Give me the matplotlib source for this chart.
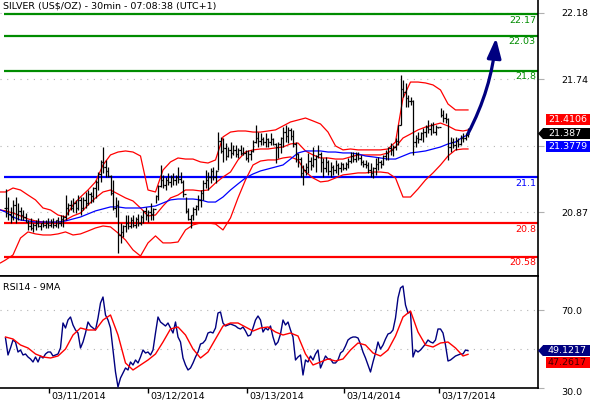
import matplotlib
matplotlib.use('Agg')
import matplotlib.pyplot as plt
from matplotlib import transforms
from matplotlib.patches import Rectangle, Polygon

plt.rcParams['font.family'] = 'DejaVu Sans'

title = 'SILVER (US$/OZ) - 30min - 07:08:38 (UTC+1)'

# 30 min bars, one per index
highs = [21.024, 20.971, 20.906, 20.952, 20.971, 20.932, 20.906, 20.886, 20.866, 20.820,
         20.834, 20.801, 20.820, 20.834, 20.801, 20.820, 20.820, 20.834, 20.827, 20.834,
         20.820, 20.840, 20.853, 20.853, 20.984, 20.932, 20.952, 20.965, 20.952, 20.984,
         20.971, 20.971, 21.004, 21.017, 21.004, 21.037, 21.083, 21.135, 21.214, 21.299,
         21.214, 21.168, 21.116, 21.083, 20.971, 20.952, 20.801, 20.788, 20.853, 20.853,
         20.840, 20.853, 20.840, 20.860, 20.853, 20.886, 20.906, 20.886, 20.932, 20.899,
         20.984, 21.050, 21.181, 21.116, 21.102, 21.129, 21.116, 21.129, 21.116, 21.168,
         21.135, 21.083, 20.971, 20.899, 20.853, 20.906, 20.919, 20.984, 21.017, 21.083,
         21.148, 21.135, 21.161, 21.168, 21.148, 21.397, 21.365, 21.358, 21.325, 21.299,
         21.332, 21.312, 21.312, 21.293, 21.312, 21.299, 21.280, 21.280, 21.280, 21.345,
         21.443, 21.397, 21.391, 21.365, 21.391, 21.358, 21.391, 21.358, 21.325, 21.332,
         21.365, 21.430, 21.443, 21.430, 21.424, 21.411, 21.332, 21.260, 21.234, 21.181,
         21.194, 21.260, 21.234, 21.299, 21.247, 21.312, 21.266, 21.227, 21.234, 21.214,
         21.201, 21.181, 21.214, 21.194, 21.201, 21.194, 21.201, 21.227, 21.266, 21.266,
         21.266, 21.266, 21.247, 21.214, 21.214, 21.201, 21.194, 21.168, 21.227, 21.234,
         21.214, 21.247, 21.280, 21.299, 21.325, 21.312, 21.358, 21.443, 21.771, 21.738,
         21.719, 21.640, 21.627, 21.607, 21.378, 21.397, 21.397, 21.424, 21.443, 21.476,
         21.456, 21.463, 21.443, 21.430, 21.555, 21.542, 21.522, 21.489, 21.365, 21.358,
         21.365, 21.358, 21.378, 21.391, 21.391, 21.424]
lows = [20.840, 20.820, 20.801, 20.820, 20.801, 20.820, 20.820, 20.820, 20.807, 20.755,
        20.755, 20.742, 20.755, 20.775, 20.755, 20.775, 20.768, 20.768, 20.775, 20.768,
        20.775, 20.768, 20.781, 20.775, 20.820, 20.853, 20.886, 20.873, 20.866, 20.886,
        20.853, 20.886, 20.899, 20.919, 20.932, 20.938, 20.965, 21.017, 21.070, 21.129,
        21.102, 21.102, 20.984, 20.886, 20.840, 20.604, 20.670, 20.709, 20.742, 20.761,
        20.768, 20.775, 20.768, 20.781, 20.788, 20.801, 20.820, 20.807, 20.820, 20.820,
        20.932, 20.952, 21.037, 21.030, 21.017, 21.050, 21.037, 21.050, 21.050, 21.063,
        21.063, 20.971, 20.866, 20.820, 20.768, 20.820, 20.853, 20.886, 20.906, 20.952,
        21.030, 21.017, 21.063, 21.083, 21.063, 21.148, 21.260, 21.201, 21.214, 21.234,
        21.227, 21.247, 21.234, 21.227, 21.247, 21.247, 21.214, 21.201, 21.214, 21.266,
        21.325, 21.299, 21.312, 21.312, 21.299, 21.299, 21.312, 21.312, 21.194, 21.227,
        21.260, 21.299, 21.332, 21.325, 21.345, 21.299, 21.201, 21.168, 21.102, 21.050,
        21.116, 21.129, 21.148, 21.168, 21.135, 21.227, 21.135, 21.102, 21.135, 21.116,
        21.102, 21.116, 21.129, 21.116, 21.135, 21.148, 21.148, 21.161, 21.194, 21.201,
        21.201, 21.214, 21.181, 21.168, 21.161, 21.129, 21.102, 21.096, 21.116, 21.148,
        21.161, 21.181, 21.214, 21.214, 21.247, 21.240, 21.280, 21.312, 21.443, 21.627,
        21.561, 21.561, 21.575, 21.247, 21.299, 21.325, 21.345, 21.332, 21.365, 21.391,
        21.378, 21.391, 21.378, 21.424, 21.496, 21.463, 21.456, 21.214, 21.266, 21.293,
        21.280, 21.299, 21.312, 21.332, 21.345, 21.365]
closes = [20.90, 20.86, 20.84, 20.92, 20.86, 20.88, 20.85, 20.84, 20.81, 20.78,
          20.77, 20.79, 20.80, 20.78, 20.80, 20.79, 20.80, 20.79, 20.81, 20.79,
          20.82, 20.80, 20.83, 20.84, 20.90, 20.92, 20.90, 20.93, 20.90, 20.95,
          20.90, 20.95, 20.93, 20.99, 20.98, 21.03, 21.07, 21.12, 21.20, 21.17,
          21.14, 21.11, 21.00, 20.90, 20.92, 20.72, 20.74, 20.78, 20.80, 20.78,
          20.82, 20.79, 20.83, 20.80, 20.84, 20.88, 20.85, 20.87, 20.86, 20.89,
          20.98, 21.04, 21.08, 21.05, 21.08, 21.07, 21.10, 21.08, 21.10, 21.09,
          21.07, 20.99, 20.88, 20.83, 20.85, 20.89, 20.91, 20.95, 21.00, 21.06,
          21.08, 21.10, 21.14, 21.10, 21.14, 21.34, 21.27, 21.29, 21.24, 21.28,
          21.26, 21.28, 21.25, 21.28, 21.26, 21.26, 21.23, 21.25, 21.27, 21.33,
          21.36, 21.34, 21.35, 21.33, 21.35, 21.33, 21.35, 21.32, 21.30, 21.32,
          21.36, 21.40, 21.37, 21.41, 21.37, 21.32, 21.25, 21.22, 21.13, 21.15,
          21.17, 21.21, 21.18, 21.22, 21.24, 21.25, 21.20, 21.16, 21.20, 21.14,
          21.17, 21.15, 21.18, 21.16, 21.19, 21.16, 21.19, 21.21, 21.24, 21.22,
          21.25, 21.23, 21.20, 21.19, 21.18, 21.15, 21.13, 21.16, 21.19, 21.20,
          21.19, 21.24, 21.26, 21.29, 21.28, 21.30, 21.34, 21.44, 21.68, 21.66,
          21.62, 21.60, 21.60, 21.33, 21.36, 21.35, 21.39, 21.40, 21.43, 21.42,
          21.44, 21.40, 21.43, 21.43, 21.51, 21.49, 21.48, 21.30, 21.33, 21.31,
          21.34, 21.32, 21.36, 21.36, 21.38, 21.387]

# bollinger bands and moving average, read every third bar
band_idx = [-2] + list(range(0, 184, 3)) + [185]
upper = [21.004, 21.004, 21.030, 21.017, 20.984, 20.952, 20.899, 20.886,
         20.853, 20.840, 20.919, 20.971, 21.017, 21.070, 21.181, 21.247,
         21.266, 21.273, 21.266, 21.240, 21.017, 21.004, 21.148, 21.201,
         21.227, 21.220, 21.220, 21.201, 21.194, 21.214, 21.365, 21.397,
         21.404, 21.404, 21.397, 21.397, 21.404, 21.411, 21.437, 21.463,
         21.476, 21.489, 21.470, 21.450, 21.397, 21.306, 21.280, 21.286,
         21.280, 21.280, 21.280, 21.280, 21.286, 21.332, 21.620, 21.725,
         21.725, 21.719, 21.706, 21.673, 21.581, 21.542, 21.542, 21.542]
middle = [20.886, 20.880, 20.866, 20.847, 20.827, 20.814, 20.807, 20.801,
          20.801, 20.820, 20.847, 20.866, 20.919, 20.965, 21.004, 21.017,
          20.991, 20.965, 20.945, 20.899, 20.847, 20.853, 20.912, 20.965,
          20.984, 21.017, 21.017, 21.011, 21.017, 21.063, 21.102, 21.135,
          21.214, 21.266, 21.280, 21.286, 21.286, 21.293, 21.299, 21.319,
          21.325, 21.273, 21.247, 21.227, 21.227, 21.220, 21.220, 21.234,
          21.247, 21.247, 21.247, 21.247, 21.260, 21.299, 21.358, 21.384,
          21.411, 21.430, 21.443, 21.456, 21.437, 21.411, 21.404, 21.4106]
lower = [20.539, 20.558, 20.591, 20.702, 20.742, 20.729, 20.722, 20.722,
         20.729, 20.742, 20.722, 20.729, 20.748, 20.768, 20.781, 20.775,
         20.735, 20.689, 20.624, 20.584, 20.670, 20.716, 20.670, 20.670,
         20.676, 20.755, 20.788, 20.801, 20.801, 20.794, 20.755, 20.834,
         20.965, 21.083, 21.181, 21.207, 21.214, 21.214, 21.227, 21.234,
         21.214, 21.135, 21.096, 21.070, 21.076, 21.096, 21.116, 21.122,
         21.129, 21.129, 21.135, 21.135, 21.129, 21.096, 20.971, 20.971,
         21.024, 21.083, 21.129, 21.181, 21.240, 21.280, 21.286, 21.286]
ma_blue = [20.886, 20.873, 20.840, 20.820, 20.814, 20.807, 20.807, 20.807,
           20.807, 20.814, 20.827, 20.840, 20.860, 20.880, 20.893, 20.906,
           20.906, 20.899, 20.899, 20.899, 20.906, 20.912, 20.932, 20.952,
           20.958, 20.958, 20.958, 20.952, 20.938, 20.938, 20.971, 21.017,
           21.057, 21.096, 21.122, 21.142, 21.155, 21.168, 21.181, 21.220,
           21.260, 21.273, 21.273, 21.273, 21.266, 21.266, 21.260, 21.260,
           21.253, 21.240, 21.234, 21.227, 21.220, 21.220, 21.240, 21.260,
           21.266, 21.273, 21.286, 21.299, 21.319, 21.332, 21.365, 21.3779]

levels = [22.17, 22.03, 21.8, 21.1, 20.8, 20.58]
level_labels = ['22.17', '22.03', '21.8', '21.1', '20.8', '20.58']
level_colors = ['#008c00', '#008c00', '#008c00', '#0000ff', '#ff0000', '#ff0000']

# the 21.31 label sits under the value tags, so it is left blank
price_ticks = [22.18, 21.743, 21.307, 20.87]
price_tick_labels = ['22.18', '21.74', '', '20.87']

# projected move
target_idx = 196.2
target_price = 22.014

rsi = [55.64, 46.93, 50.52, 54.62, 53.59, 48.46, 49.49, 46.93, 47.44, 45.90,
       44.88, 43.34, 45.90, 43.34, 46.41, 45.39, 47.44, 48.46, 48.46, 46.41,
       46.93, 47.44, 50.52, 63.34, 60.77, 64.87, 66.41, 62.31, 59.75, 58.21,
       50.52, 53.59, 58.21, 63.85, 61.80, 60.77, 59.75, 65.90, 73.59, 76.67,
       67.44, 64.87, 60.77, 49.49, 38.21, 30.51, 35.13, 37.70, 40.26, 39.24,
       43.34, 41.80, 44.36, 42.83, 45.90, 49.49, 47.95, 48.46, 46.93, 49.49,
       58.21, 66.41, 63.85, 62.82, 61.80, 63.34, 60.77, 58.21, 63.85, 56.16,
       53.59, 45.39, 41.80, 39.24, 40.26, 42.83, 45.90, 48.46, 52.57, 53.08,
       54.62, 58.21, 58.72, 58.21, 60.77, 68.46, 68.97, 63.34, 61.80, 62.31,
       62.82, 62.31, 61.80, 60.77, 60.26, 61.29, 59.23, 56.67, 57.18, 60.77,
       64.87, 66.93, 64.87, 58.72, 60.77, 59.75, 61.80, 56.16, 52.05, 53.59,
       57.70, 64.87, 62.31, 63.85, 59.75, 56.16, 44.36, 45.90, 46.93, 36.67,
       44.36, 43.34, 46.41, 44.36, 47.44, 49.49, 40.26, 43.34, 46.41, 44.88,
       44.88, 42.83, 42.83, 44.36, 47.95, 48.98, 51.54, 54.62, 55.64, 56.16,
       56.16, 55.64, 52.57, 48.46, 45.39, 41.80, 38.21, 43.34, 47.95, 53.59,
       50.00, 52.05, 55.13, 57.70, 58.21, 59.75, 65.90, 76.16, 81.29, 82.31,
       72.57, 68.46, 68.97, 45.90, 49.49, 48.46, 49.49, 51.03, 52.57, 54.62,
       53.59, 53.08, 54.62, 60.26, 60.26, 58.21, 52.05, 43.85, 44.36, 45.39,
       46.41, 46.93, 47.44, 47.44, 49.49, 49.1217]
rsi_ma_idx = list(range(0, 184, 3)) + [185]
rsi_ma = [56.16, 55.13, 52.05, 50.52, 47.44, 45.90, 45.39, 46.41, 50.00, 57.18,
          60.77, 59.75, 59.75, 64.87, 67.44, 57.18, 42.83, 39.24, 41.80, 44.36,
          47.44, 53.59, 60.26, 61.29, 57.18, 50.00, 45.39, 48.46, 55.13, 61.80,
          63.34, 63.34, 61.29, 59.23, 60.77, 61.29, 58.72, 57.18, 58.21, 56.67,
          47.44, 41.80, 43.34, 44.88, 43.85, 44.88, 49.49, 53.08, 52.05, 47.95,
          46.41, 49.49, 56.67, 66.41, 69.49, 58.72, 52.05, 51.03, 53.08, 53.59,
          50.52, 46.41, 47.2617]
rsi_ticks = [70, 50, 30]
rsi_tick_labels = ['70.0', '', '30.0']

date_idx = [17.4, 57.0, 96.6, 135.4, 173.4]
date_labels = ['03/11/2014', '03/12/2014', '03/13/2014', '03/14/2014', '03/17/2014']

FS = 6.8

fig = plt.figure(figsize=(5.9, 4.0), dpi=100)
fig.patch.set_facecolor('white')
ax = fig.add_axes([0, 0.31, 538 / 590, 0.69])
ax2 = fig.add_axes([0, 0.03, 538 / 590, 0.28])

# pixel helper (origin bottom left of the png)
px = transforms.Affine2D().scale(1 / 590, 1 / 400) + fig.transFigure

for a in (ax, ax2):
    a.set_xlim(-2.2, 213)
    for s in ('left', 'top'):
        a.spines[s].set_visible(False)
    a.spines['right'].set_linewidth(1.2)
    a.spines['bottom'].set_linewidth(1.2)
    a.yaxis.tick_right()
    a.tick_params(axis='y', direction='out', length=4, color='#b0b0b0',
                  labelsize=FS, pad=13, labelcolor='black')
    a.grid(axis='y', color='#b4b4b4', linestyle=(0, (1, 5)), linewidth=0.8)
    a.set_axisbelow(True)
ax2.spines['top'].set_visible(True)
ax2.spines['top'].set_linewidth(1.2)

ax.set_ylim(20.453, 22.263)
ax.set_xticks([])
ax.set_yticks(price_ticks)
ax.set_yticklabels(price_tick_labels)

# support / resistance levels
for lvl, lab, col in zip(levels, level_labels, level_colors):
    ax.hlines(lvl, -0.8, 213, color=col, linewidth=1.6, zorder=2)
    ax.annotate(lab, xy=(1, lvl), xycoords=('axes fraction', 'data'),
                xytext=(-1.5, -1.2), textcoords='offset points',
                ha='right', va='top', color=col, fontsize=FS)

# bands
ax.plot(band_idx, upper, color='#ff0000', linewidth=0.9, zorder=3)
ax.plot(band_idx, middle, color='#ff0000', linewidth=0.9, zorder=3)
ax.plot(band_idx, lower, color='#ff0000', linewidth=0.9, zorder=3)
ax.plot(band_idx, ma_blue, color='#0000ff', linewidth=0.9, zorder=3)

# ohlc bars
xs = list(range(len(highs)))
opens = [closes[0]] + closes[:-1]
ax.vlines(xs, lows, highs, color='black', linewidth=0.9, zorder=4)
ax.hlines(closes, xs, [x + 0.45 for x in xs], color='black', linewidth=0.9, zorder=4)
ax.hlines(opens, [x - 0.45 for x in xs], xs, color='black', linewidth=0.9, zorder=4)

# projection arrow
ax.annotate('', xy=(target_idx, target_price), xytext=(xs[-1], closes[-1]),
            arrowprops=dict(arrowstyle='-|>,head_length=0.85,head_width=0.3',
                            connectionstyle='arc3,rad=0.1', color='#000080',
                            linewidth=2.3, mutation_scale=14, shrinkA=0, shrinkB=0),
            zorder=6)

ax.text(0.006, 0.978, title, transform=ax.transAxes, fontsize=FS, va='center', ha='left')

# rsi panel
ax2.set_ylim(30, 87.44)
ax2.set_yticks(rsi_ticks)
ax2.set_yticklabels(rsi_tick_labels)
ax2.get_yticklabels()[2].set_verticalalignment('top')
ax2.plot(xs, rsi, color='#000080', linewidth=1.0, zorder=3)
ax2.plot(rsi_ma_idx, rsi_ma, color='#ff0000', linewidth=1.0, zorder=3)
ax2.set_xticks(date_idx)
ax2.set_xticklabels([])
ax2.tick_params(axis='x', direction='out', length=3.5, width=1, color='black')
for d, lab in zip(date_idx, date_labels):
    ax2.annotate(lab, xy=(d, 0), xycoords=('data', 'axes fraction'),
                 xytext=(2, -2.5), textcoords='offset points',
                 ha='left', va='top', fontsize=FS, annotation_clip=False)
ax2.text(0.006, 0.9, 'RSI14 - 9MA', transform=ax2.transAxes, fontsize=FS, va='center', ha='left')


def tag(a, value, text, fc, tc, dy=0, pointer=False):
    y = px.inverted().transform(a.transData.transform((0, value)))[1] + dy
    x0 = 543 if pointer else 546
    fig.add_artist(Rectangle((x0, y - 5.5), 590 - x0, 11, transform=px,
                             facecolor=fc, edgecolor='none', zorder=10))
    if pointer:
        fig.add_artist(Polygon([(538, y), (543, y + 5.5), (543, y - 5.5)], closed=True,
                               transform=px, facecolor=fc, edgecolor='none', zorder=10))
    fig.text(548, y, text, transform=px, color=tc, fontsize=FS, va='center', ha='left',
             zorder=11)


fig.canvas.draw()
tag(ax, middle[-1], '21.4106', '#ff0000', 'white', dy=10.5)
tag(ax, closes[-1], '21.387', 'black', 'white', pointer=True)
tag(ax, ma_blue[-1], '21.3779', '#0000ff', 'white', dy=-12)
tag(ax2, rsi[-1], '49.1217', '#000080', 'white', pointer=True)
tag(ax2, rsi_ma[-1], '47.2617', '#ff0000', '#400000', dy=-8)

fig.savefig('out.png', dpi=100, facecolor='white')
